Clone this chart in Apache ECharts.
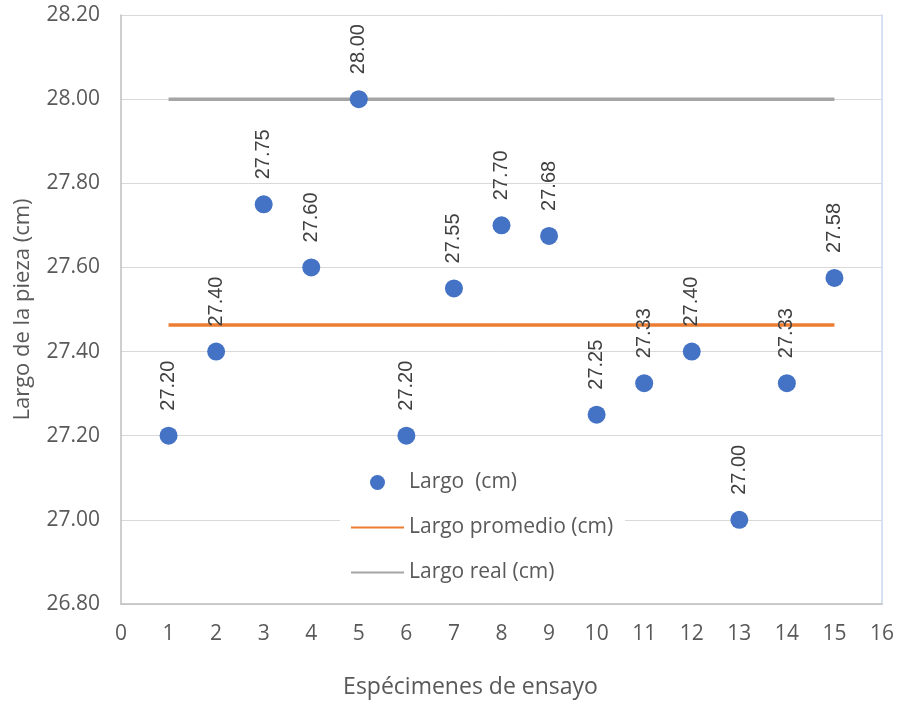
<!DOCTYPE html>
<html>
<head>
<meta charset="utf-8">
<script src="https://cdn.jsdelivr.net/npm/echarts@6/dist/echarts.min.js"></script>
<style>html,body{margin:0;padding:0;background:#fff;}#c{width:899px;height:702px;}</style>
</head>
<body>
<div id="c"></div>
<script>
const specimens = [1,2,3,4,5,6,7,8,9,10,11,12,13,14,15];
const largo = [27.20,27.40,27.75,27.60,28.00,27.20,27.55,27.70,27.675,27.25,27.325,27.40,27.00,27.325,27.575];
const largoPromedio = 27.4633;
const largoReal = 28.00;
const yTicks = {min: 26.8, max: 28.2, interval: 0.2};
const xTicks = {min: 0, max: 16, interval: 1};

const fmt2 = v => (Math.round(v*100 + 1e-6)/100).toFixed(2);

const chart = echarts.init(document.getElementById('c'), null, {renderer:'canvas'});
const axisFont = '"Open Sans", sans-serif';
const noSymbol = {color: 'rgba(0,0,0,0)', borderWidth: 0, opacity: 0};
chart.setOption({
  animation: false,
  backgroundColor: '#ffffff',
  grid: {left: 121, right: 17, top: 15, bottom: 98, outerBoundsMode: 'none', containLabel: false},
  xAxis: {
    type: 'value', min: xTicks.min, max: xTicks.max, interval: xTicks.interval,
    name: 'Espécimenes de ensayo', nameLocation: 'middle', nameGap: 72,
    nameTextStyle: {color: '#595959', fontSize: 23, fontFamily: axisFont, padding: [0, 62, 0, 0]},
    axisLine: {show: true, lineStyle: {color: '#BFBFBF', width: 1.5}},
    axisTick: {show: false},
    splitLine: {show: false},
    axisLabel: {color: '#595959', fontSize: 21, fontFamily: axisFont, margin: 20}
  },
  yAxis: [{
    type: 'value', min: yTicks.min, max: yTicks.max, interval: yTicks.interval,
    name: 'Largo de la pieza (cm)', nameLocation: 'middle', nameGap: 87,
    nameTextStyle: {color: '#595959', fontSize: 22, fontFamily: axisFont},
    axisLine: {show: true, lineStyle: {color: '#BFBFBF', width: 1.5}},
    axisTick: {show: false},
    splitLine: {show: true, lineStyle: {color: '#D9D9D9', width: 1}},
    axisLabel: {color: '#595959', fontSize: 21, fontFamily: axisFont, margin: 21, formatter: v => v.toFixed(2)}
  },{
    type: 'value', min: yTicks.min, max: yTicks.max, interval: yTicks.interval, position: 'right',
    axisLine: {show: true, lineStyle: {color: '#C9D8F0', width: 1.5}},
    axisTick: {show: false}, axisLabel: {show: false}, splitLine: {show: false}
  }],
  legend: {
    orient: 'vertical', left: 340, top: 466,
    backgroundColor: '#ffffff', padding: [6, 12, 6, 10],
    itemWidth: 53, itemHeight: 15, itemGap: 24,
    textStyle: {color: '#595959', fontSize: 21, fontFamily: axisFont},
    data: [
      {name: 'Largo  (cm)', icon: 'circle'},
      {name: 'Largo promedio (cm)', itemStyle: noSymbol},
      {name: 'Largo real (cm)', itemStyle: noSymbol}
    ]
  },
  series: [
    {
      name: 'Largo real (cm)', type: 'line', symbol: 'none', z: 1,
      data: [[specimens[0], largoReal], [specimens[specimens.length-1], largoReal]],
      lineStyle: {color: '#A5A5A5', width: 3.5}, itemStyle: {color: '#A5A5A5'}
    },
    {
      name: 'Largo promedio (cm)', type: 'line', symbol: 'none', z: 2,
      data: [[specimens[0], largoPromedio], [specimens[specimens.length-1], largoPromedio]],
      lineStyle: {color: '#ED7D31', width: 3.5}, itemStyle: {color: '#ED7D31'}
    },
    {
      name: 'Largo  (cm)', type: 'scatter', symbol: 'circle', symbolSize: 18, z: 3,
      data: specimens.map((s, i) => [s, largo[i]]),
      itemStyle: {color: '#4472C4', opacity: 1},
      label: {
        show: true, position: 'top', distance: 16, rotate: 90,
        align: 'left', verticalAlign: 'middle',
        color: '#404040', fontSize: 20, fontFamily: '"Liberation Sans", Arial, sans-serif',
        formatter: p => fmt2(p.value[1])
      }
    }
  ]
});
</script>
</body>
</html>
